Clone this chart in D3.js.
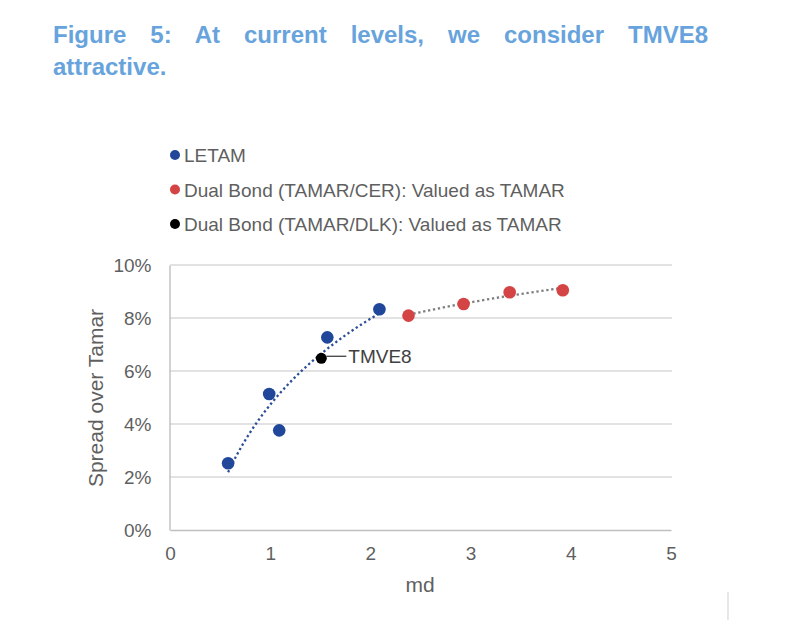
<!DOCTYPE html>
<html>
<head>
<meta charset="utf-8">
<script src="https://cdn.jsdelivr.net/npm/d3@7"></script>
<style>
  body { margin: 0; background: #fff; }
  svg { display: block; font-family: "Liberation Sans", Arial, sans-serif; }
</style>
</head>
<body>
<div id="chart"></div>
<script>
// data (md in years, spread in %)
const letamMd = [0.58, 0.99, 1.09, 1.57, 2.09]
const letamSpread = [2.52, 5.13, 3.76, 7.27, 8.33]
const cerMd = [2.38, 2.93, 3.39, 3.92]
const cerSpread = [8.09, 8.53, 8.97, 9.05]
const dlkMd = [1.51]
const dlkSpread = [6.48]
const dlkLabels = ["TMVE8"]
const seriesNames = ["LETAM", "Dual Bond (TAMAR/CER): Valued as TAMAR", "Dual Bond (TAMAR/DLK): Valued as TAMAR"]
const xTicks = [0, 1, 2, 3, 4, 5]
const yTicks = [0, 2, 4, 6, 8, 10]

const width = 800,
      height = 635,
      margin = ({ top: 265, right: 129, bottom: 105, left: 170 })

const colors = { letam: "#21479a", cer: "#d44444", dlk: "#000000", letamTrend: "#2c4e98", cerTrend: "#7f7f7f" }
const textGray = "#5f5f5f"

let svg = d3.select("#chart")
    .append("svg")
    .attr("width", width)
    .attr("height", height)
    .attr("viewBox", [0, 0, width, height])

// scales
let x = d3.scaleLinear()
    .domain([0, 5])
    .range([margin.left, width - margin.right])
let y = d3.scaleLinear()
    .domain([0, 10])
    .range([height - margin.bottom, margin.top])

// title, justified over two lines like the report
const titleLines = ["Figure 5: At current levels, we consider TMVE8", "attractive."]
titleLines.forEach((line, i) => {
    let t = svg.append("text")
        .attr("x", 53)
        .attr("y", 43 + i * 32)
        .style("font-size", "24px")
        .style("font-weight", "bold")
        .style("fill", "#67a3dc")
        .text(line)
    if (i === 0) {
        let natural = t.node().getComputedTextLength()
        let gaps = line.split(" ").length - 1
        t.style("word-spacing", ((708 - 53 - natural) / gaps) + "px")
    }
})

// legend
const legendColors = [colors.letam, colors.cer, colors.dlk]
seriesNames.forEach((name, i) => {
    let cy = 155 + i * 34.5
    svg.append("circle")
        .attr("cx", 175)
        .attr("cy", cy)
        .attr("r", 5)
        .attr("fill", legendColors[i])
    svg.append("text")
        .attr("x", 184)
        .attr("y", cy + 7)
        .style("font-size", "19px")
        .style("fill", textGray)
        .text(name)
})

// gridlines
svg.append("g")
    .selectAll("line")
    .data(yTicks.filter(d => d > 0))
    .join("line")
    .attr("x1", x(0))
    .attr("x2", x(5) + 1)
    .attr("y1", d => y(d))
    .attr("y2", d => y(d))
    .attr("stroke", "#d9d9d9")
    .attr("stroke-width", 1.4)

// y axis
let yAxis = svg.append("g")
    .attr("transform", `translate(${x(0) - 0.5},0)`)
    .call(d3.axisLeft(y).tickValues(yTicks).tickSize(0).tickPadding(18).tickFormat(d => d + "%"))
yAxis.select(".domain").attr("stroke", "#bfbfbf").attr("stroke-width", 1.4)
yAxis.selectAll("text").style("font-size", "19px").style("fill", textGray).style("font-family", "Liberation Sans, Arial, sans-serif")

// x axis
let xAxis = svg.append("g")
    .attr("transform", `translate(0,${y(0)})`)
    .call(d3.axisBottom(x).tickValues(xTicks).tickSize(0).tickPadding(17).tickFormat(d3.format("d")))
xAxis.select(".domain").attr("stroke", "#bfbfbf").attr("stroke-width", 1.4)
xAxis.selectAll("text").style("font-size", "19px").style("fill", textGray).style("font-family", "Liberation Sans, Arial, sans-serif")

// axis titles
svg.append("text")
    .attr("x", 420)
    .attr("y", 592)
    .attr("text-anchor", "middle")
    .style("font-size", "21px")
    .style("fill", textGray)
    .text("md")
svg.append("text")
    .attr("transform", "translate(96,398) rotate(-90)")
    .attr("text-anchor", "middle")
    .attr("dy", "0.35em")
    .style("font-size", "21px")
    .style("fill", textGray)
    .text("Spread over Tamar")

// logarithmic trendline, least squares on ln(md)
function logFit(xs, ys) {
    let lx = xs.map(Math.log)
    let mx = d3.mean(lx), my = d3.mean(ys)
    let b = d3.sum(lx, (v, i) => (v - mx) * (ys[i] - my)) / d3.sum(lx, v => (v - mx) ** 2)
    let a = my - b * mx
    return v => a + b * Math.log(v)
}

function trend(xs, ys, color) {
    let f = logFit(xs, ys)
    let [lo, hi] = d3.extent(xs)
    let pts = d3.range(0, 41).map(k => lo + (hi - lo) * k / 40)
    svg.append("path")
        .datum(pts)
        .attr("fill", "none")
        .attr("stroke", color)
        .attr("stroke-width", 2.3)
        .attr("stroke-dasharray", "2.3,2.7")
        .attr("d", d3.line().x(d => x(d)).y(d => y(f(d))))
}
trend(letamMd, letamSpread, colors.letamTrend)
trend(cerMd, cerSpread, colors.cerTrend)

// points
function dots(xs, ys, color, r) {
    svg.append("g")
        .selectAll("circle")
        .data(xs)
        .join("circle")
        .attr("cx", d => x(d))
        .attr("cy", (d, i) => y(ys[i]))
        .attr("r", r)
        .attr("fill", color)
}
dots(letamMd, letamSpread, colors.letam, 6.3)
dots(cerMd, cerSpread, colors.cer, 6.3)
dots(dlkMd, dlkSpread, colors.dlk, 5.5)

// TMVE8 label with leader line
dlkMd.forEach((m, i) => {
    svg.append("line")
        .attr("x1", x(m) + 5)
        .attr("x2", x(m) + 25)
        .attr("y1", y(dlkSpread[i]) - 2)
        .attr("y2", y(dlkSpread[i]) - 2)
        .attr("stroke", "#404040")
        .attr("stroke-width", 1.3)
    svg.append("text")
        .attr("x", x(m) + 27)
        .attr("y", y(dlkSpread[i]) + 5)
        .style("font-size", "19px")
        .style("fill", "#404040")
        .text(dlkLabels[i])
})

// faint page mark bottom right
svg.append("line")
    .attr("x1", 728).attr("x2", 728)
    .attr("y1", 592).attr("y2", 620)
    .attr("stroke", "#d8d8d8")
    .attr("stroke-width", 1.2)
</script>
</body>
</html>
